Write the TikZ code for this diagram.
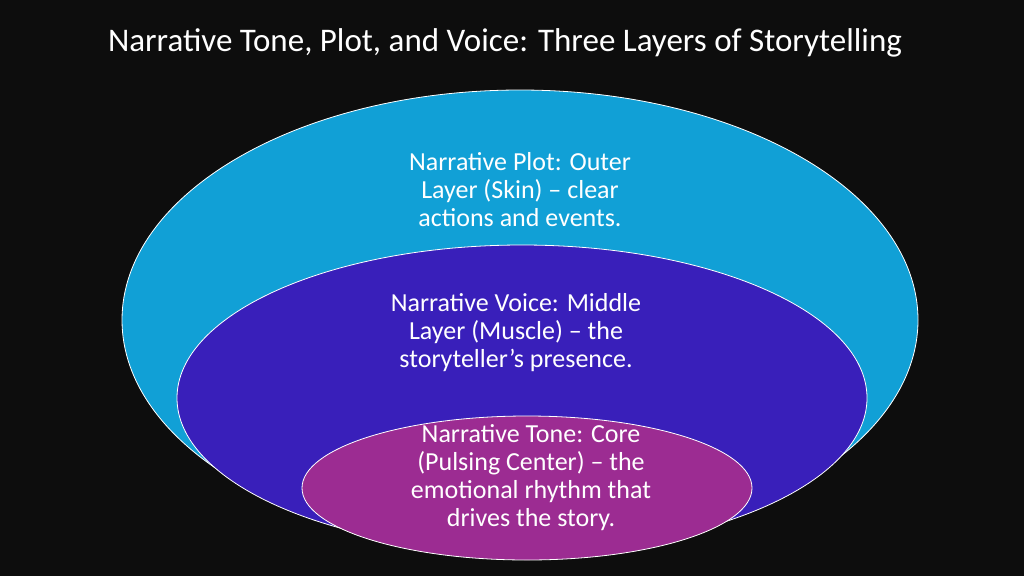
\documentclass[tikz,border=0pt]{standalone}
\usepackage{fontspec}
\setmainfont{Carlito}
\begin{document}
\begin{tikzpicture}[x=1pt,y=-1pt,
  lyr/.style={draw=white,line width=0.8pt},
  txt/.style={text=white,align=center,font=\fontsize{26}{28}\selectfont}]
\fill[black!95] (0,0) rectangle (1024,576);
\useasboundingbox (0,0) rectangle (1024,576);
\node[text=white,font=\fontsize{33}{36}\selectfont] (title) at (505,43) {Narrative Tone, Plot, and Voice: Three Layers of Storytelling};
\fill[lyr,fill={rgb,255:red,17;green,160;blue,214}] (520,320) ellipse [x radius=398,y radius=230];
\fill[lyr,fill={rgb,255:red,57;green,31;blue,186}] (522,398) ellipse [x radius=345,y radius=153];
\fill[lyr,fill={rgb,255:red,156;green,44;blue,146}] (527,488) ellipse [x radius=225,y radius=72];
\node[txt] (plot) at (520,190) {Narrative Plot: Outer\\Layer (Skin) -- clear\\actions and events.};
\node[txt] (voice) at (516,333) {Narrative Voice: Middle\\Layer (Muscle) -- the\\storyteller’s presence.};
\node[txt] (tone) at (531,478) {Narrative Tone: Core\\(Pulsing Center) -- the\\emotional rhythm that\\drives the story.};
\end{tikzpicture}
\end{document}
